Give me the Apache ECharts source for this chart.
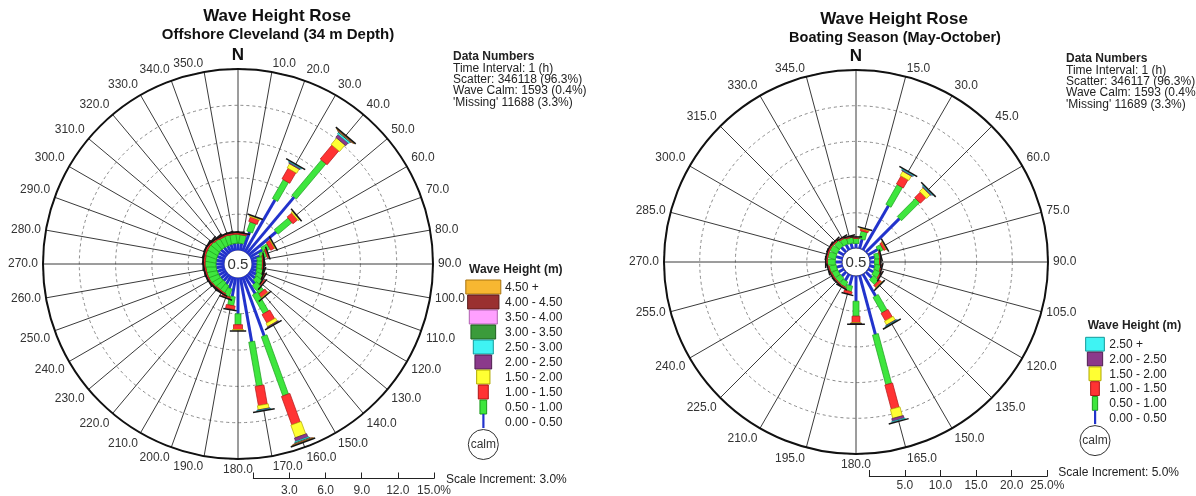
<!DOCTYPE html>
<html>
<head>
<meta charset="utf-8">
<script src="https://cdn.jsdelivr.net/npm/echarts/dist/echarts.min.js"></script>
<style>html,body{margin:0;padding:0;background:#fff}#main{width:1196px;height:496px}</style>
</head>
<body>
<div id="main"></div>
<script>
var FONT = '"Liberation Sans", Arial, sans-serif';

// ---- left rose: Offshore Cleveland, 10 degree sectors, % of records ----
var leftDirs = [0,10,20,30,40,50,60,70,80,90,100,110,120,130,140,150,160,170,
                180,190,200,210,220,230,240,250,260,270,280,290,300,310,320,330,340,350];
var left000 = [0.6,0.6,1.7,5.0,6.1,3.0,1.2,0.8,0.5,0.45,0.45,0.5,0.6,0.7,1.0,1.7,5.2,5.4,
               3.0,1.6,1.0,0.8,0.7,0.7,0.7,0.7,0.7,0.7,0.7,0.7,0.7,0.7,0.65,0.6,0.6,0.6];
var left050 = [0.75,0.7,0.8,1.8,3.8,1.5,0.6,0.55,0.45,0.45,0.45,0.5,0.55,0.65,0.9,1.8,5.2,3.7,
               0.9,0.75,0.7,0.7,0.75,0.8,0.85,0.85,0.85,0.9,0.9,0.95,0.95,0.9,0.85,0.8,0.8,0.75];
var left100 = [0.1,0.1,0.4,1.0,1.5,0.5,0.35,0.1,0.06,0.06,0.06,0.07,0.08,0.12,0.35,0.8,2.5,1.6,
               0.4,0.3,0.1,0.08,0.08,0.08,0.08,0.09,0.1,0.1,0.12,0.12,0.13,0.12,0.1,0.1,0.1,0.1];
var left150 = [0,0,0.08,0.4,0.7,0.12,0.05,0,0,0,0,0,0,0,0.05,0.3,1.1,0.35,
               0.06,0,0,0,0,0,0,0,0,0,0,0,0,0,0,0,0,0];
var left200 = [0,0,0,0.1,0.3,0,0,0,0,0,0,0,0,0,0,0.06,0.3,0.06,0,0,0,0,0,0,0,0,0,0,0,0,0,0,0,0,0,0];
var left250 = [0,0,0,0.05,0.15,0,0,0,0,0,0,0,0,0,0,0,0.1,0.02,0,0,0,0,0,0,0,0,0,0,0,0,0,0,0,0,0,0];
var left300 = [0,0,0,0,0.06,0,0,0,0,0,0,0,0,0,0,0,0.05,0,0,0,0,0,0,0,0,0,0,0,0,0,0,0,0,0,0,0];
var left350 = [0,0,0,0,0.03,0,0,0,0,0,0,0,0,0,0,0,0.03,0,0,0,0,0,0,0,0,0,0,0,0,0,0,0,0,0,0,0];
var left400 = [0,0,0,0,0.02,0,0,0,0,0,0,0,0,0,0,0,0.02,0,0,0,0,0,0,0,0,0,0,0,0,0,0,0,0,0,0,0];
var left450 = [0,0,0,0,0.02,0,0,0,0,0,0,0,0,0,0,0,0.02,0,0,0,0,0,0,0,0,0,0,0,0,0,0,0,0,0,0,0];
var leftClasses = ['0.00 - 0.50','0.50 - 1.00','1.00 - 1.50','1.50 - 2.00','2.00 - 2.50',
                   '2.50 - 3.00','3.00 - 3.50','3.50 - 4.00','4.00 - 4.50','4.50 +'];
var leftScaleTicks = [0,3,6,9,12,15];
var leftStats = ['Time Interval: 1 (h)','Scatter: 346118 (96.3%)','Wave Calm: 1593 (0.4%)',"'Missing' 11688 (3.3%)"];

// ---- right rose: Boating Season, 15 degree sectors ----
var rightDirs = [0,15,30,45,60,75,90,105,120,135,150,165,180,195,210,225,240,255,270,285,300,315,330,345];
var right000 = [0.7,1.4,7.2,6.7,1.6,0.8,0.7,0.8,0.9,1.2,3.6,8.6,3.6,1.5,1.1,0.9,0.9,0.9,1.0,1.0,1.0,1.0,0.9,0.8];
var right050 = [0.7,1.1,3.2,3.6,0.7,0.7,0.7,0.8,0.9,1.0,2.5,7.2,2.1,0.8,0.8,0.9,0.9,1.0,1.1,1.1,1.1,1.0,0.9,0.8];
var right100 = [0.12,0.3,1.3,1.1,0.35,0.1,0.08,0.1,0.14,0.4,1.2,3.5,0.9,0.35,0.14,0.12,0.12,0.13,0.15,0.15,0.16,0.15,0.13,0.12];
var right150 = [0,0.05,0.7,0.7,0.05,0,0,0,0,0.05,0.6,1.3,0.1,0,0,0,0,0,0,0,0,0,0,0];
var right200 = [0,0,0.15,0.15,0,0,0,0,0,0,0.1,0.4,0.02,0,0,0,0,0,0,0,0,0,0,0];
var right250 = [0,0,0.1,0.1,0,0,0,0,0,0,0.05,0.1,0,0,0,0,0,0,0,0,0,0,0,0];
var rightClasses = ['0.00 - 0.50','0.50 - 1.00','1.00 - 1.50','1.50 - 2.00','2.00 - 2.50','2.50 +'];
var rightScaleTicks = [0,5,10,15,20,25];
var rightStats = ['Time Interval: 1 (h)','Scatter: 346117 (96.3%)','Wave Calm: 1593 (0.4%)',"'Missing' 11689 (3.3%)"];

// styles
var fills   = ['#2233cc','#3ee63e','#ff3333','#ffff33','#8b3a8b','#3ff3f3','#3b9b3b','#ffa0ff','#9a3030','#f7b731'];
var strokes = ['#2233cc','#1c9a1c','#b01515','#b0a800','#4e1e4e','#139a9a','#1f5f1f','#b060b0','#5a1a1a','#a87410'];
var leftWidths  = [3,6,9,11,13,15,17,19,21,23];
var rightWidths = [3,6,8,10,12,14];

function buildSegs(dirs, classes) {
  var segs = [], caps = [];
  dirs.forEach(function (d, i) {
    var acc = 0, last = -1;
    classes.forEach(function (arr, k) {
      var v = arr[i];
      if (v > 0) { segs.push([acc + v, d, acc, k]); acc += v; last = k; }
    });
    if (last >= 0) caps.push([acc, d, last]);
  });
  return {segs: segs, caps: caps};
}

function frame(api, ang, rmax) {
  var o = api.coord([0, ang]), f = api.coord([rmax, ang]);
  var ux = f[0] - o[0], uy = f[1] - o[1], L = Math.sqrt(ux * ux + uy * uy);
  return [ux / L, uy / L];
}

function segRenderer(widths, rmax) {
  return function (params, api) {
    var ang = api.value(1), k = api.value(3);
    var a = api.coord([api.value(2), ang]), b = api.coord([api.value(0), ang]);
    var u = frame(api, ang, rmax), h = widths[k] / 2;
    var nx = -u[1] * h, ny = u[0] * h;
    return {
      type: 'polygon',
      shape: {points: [[a[0] + nx, a[1] + ny], [b[0] + nx, b[1] + ny], [b[0] - nx, b[1] - ny], [a[0] - nx, a[1] - ny]]},
      style: {fill: fills[k], stroke: k === 0 ? null : strokes[k], lineWidth: 0.7}
    };
  };
}

function capRenderer(widths, rmax) {
  return function (params, api) {
    var ang = api.value(1), k = api.value(2);
    var b = api.coord([api.value(0), ang]);
    var u = frame(api, ang, rmax), h = Math.min(widths[k] * 1.4 + 1, 26) / 2, t = 1.5;
    var nx = -u[1] * h, ny = u[0] * h;
    var c = [b[0] + u[0] * t, b[1] + u[1] * t];
    return {
      type: 'polygon',
      shape: {points: [[b[0] + nx, b[1] + ny], [c[0] + nx, c[1] + ny], [c[0] - nx, c[1] - ny], [b[0] - nx, b[1] - ny]]},
      style: {fill: '#151515'}
    };
  };
}

function angleFormatter(step) {
  return function (v) {
    if (v === 0) return '{n|N}';
    if (v >= 360) return '';
    var s = v.toFixed(1);
    if (v === step) return '{a|' + s + '}';
    if (v === 360 - step) return '{b|' + s + '}';
    if (v === 180 - step) return '{c|' + s + '}';
    if (v === 180 + step) return '{d|' + s + '}';
    return s;
  };
}

var labelRich = {
  n: {fontSize: 17, fontWeight: 'bold', color: '#111', fontFamily: FONT},
  a: {fontSize: 12, color: '#333', fontFamily: FONT, padding: [0, 0, 0, 23], lineHeight: 6},
  b: {fontSize: 12, color: '#333', fontFamily: FONT, padding: [0, 30, 0, 0], lineHeight: 6},
  c: {fontSize: 12, color: '#333', fontFamily: FONT, padding: [0, 0, 0, 30]},
  d: {fontSize: 12, color: '#333', fontFamily: FONT, padding: [0, 30, 0, 0]}
};

function angleAxis(idx, step) {
  return {
    polarIndex: idx, type: 'value', min: 0, max: 360, interval: step,
    startAngle: 90, clockwise: true,
    axisLine: {lineStyle: {color: '#111', width: 2}},
    axisTick: {show: false},
    splitLine: {show: true, lineStyle: {color: '#3a3a3a', width: 1}},
    axisLabel: {margin: 5, fontSize: 12, color: '#333', fontFamily: FONT,
                formatter: angleFormatter(step), rich: labelRich}
  };
}

function radiusAxis(idx, max, step) {
  return {
    polarIndex: idx, type: 'value', min: 0, max: max, interval: step,
    axisLine: {show: false}, axisTick: {show: false}, axisLabel: {show: false},
    splitLine: {show: true, lineStyle: {color: '#8a8a8a', width: 1, type: [3, 3]}}
  };
}

function scaleAxis(idx, ticks, margin) {
  var max = ticks[ticks.length - 1];
  return {
    gridIndex: idx, type: 'value', min: 0, max: max, interval: ticks[1] - ticks[0],
    axisLine: {lineStyle: {color: '#222', width: 1}},
    axisTick: {inside: true, length: 6, lineStyle: {color: '#222'}},
    splitLine: {show: false},
    axisLabel: {margin: margin, fontSize: 12, color: '#333', fontFamily: FONT,
      formatter: function (v) { return v === 0 ? '' : v.toFixed(1) + (v === max ? '%' : ''); }}
  };
}

var L = buildSegs(leftDirs, [left000, left050, left100, left150, left200, left250, left300, left350, left400, left450]);
var R = buildSegs(rightDirs, [right000, right050, right100, right150, right200, right250]);

var g = [];
function text(x, y, s, font, align, color) {
  g.push({type: 'text', x: x, y: y, z: 100,
          style: {text: s, font: font, fill: color || '#222', align: align || 'left', verticalAlign: 'middle'}});
}
function calm(cx, cy, r, label, fsize) {
  g.push({type: 'circle', z: 100, shape: {cx: cx, cy: cy, r: r},
          style: {fill: '#fff', stroke: label ? '#333' : null, lineWidth: 1}});
  text(cx, cy + 0.5, label || '0.5', fsize + 'px ' + FONT, 'center', '#333');
}

// titles
text(277, 16, 'Wave Height Rose', 'bold 17px ' + FONT, 'center', '#111');
text(278, 34.5, 'Offshore Cleveland (34 m Depth)', 'bold 15px ' + FONT, 'center', '#111');
text(894, 19.5, 'Wave Height Rose', 'bold 17px ' + FONT, 'center', '#111');
text(895, 38, 'Boating Season (May-October)', 'bold 14.5px ' + FONT, 'center', '#111');

// data numbers
text(453, 57, 'Data Numbers', 'bold 12px ' + FONT);
leftStats.forEach(function (s, i) { text(453, 68.5 + 11.3 * i, s, '12px ' + FONT); });
text(1066, 59, 'Data Numbers', 'bold 12px ' + FONT);
rightStats.forEach(function (s, i) { text(1066, 70.5 + 11.3 * i, s, '12px ' + FONT); });

// calm centres
calm(238, 264, 13.5, null, 15);
calm(856, 262, 13.5, null, 15);

// legends
function legend(cx, top, step, boxW, classes, titleX, titleY, labelX) {
  text(titleX, titleY, 'Wave Height (m)', 'bold 12px ' + FONT);
  var n = classes.length;
  for (var i = 0; i < n - 1; i++) {
    var k = n - 1 - i, w = boxW[i];
    g.push({type: 'rect', z: 100, shape: {x: cx - w / 2, y: top + step * i, width: w, height: step - 1},
            style: {fill: fills[k], stroke: strokes[k], lineWidth: 1}});
  }
  var ly = top + step * (n - 1);
  g.push({type: 'rect', z: 100, shape: {x: cx - 1, y: ly - 1, width: 2.2, height: step - 1},
          style: {fill: fills[0]}});
  for (var j = 0; j < n; j++) text(labelX, top + step * j + 7.3, classes[n - 1 - j], '12px ' + FONT, 'left', '#222');
  calm(cx, ly + step + 14.5, 15, 'calm', 12);
}
legend(483.3, 280, 15, [35, 31.3, 28, 24.7, 20, 16.7, 13.3, 10, 6.7], leftClasses, 469, 270, 505);
legend(1095, 337.3, 14.8, [18.7, 15.3, 12, 8.7, 5.3], rightClasses, 1087.7, 326, 1109.3);

text(446, 479.3, 'Scale Increment: 3.0%', '12px ' + FONT);
text(1058.3, 472.3, 'Scale Increment: 5.0%', '12px ' + FONT);

var chart = echarts.init(document.getElementById('main'), null, {renderer: 'canvas'});
chart.setOption({
  animation: false,
  backgroundColor: '#fff',
  polar: [
    {center: [238, 264], radius: [13.5, 195]},
    {center: [856, 262], radius: [13.5, 192]}
  ],
  angleAxis: [angleAxis(0, 10), angleAxis(1, 15)],
  radiusAxis: [radiusAxis(0, 15, 3), radiusAxis(1, 25, 5)],
  grid: [
    {left: 253.3, top: 477, width: 180.7, height: 6},
    {left: 869.3, top: 470, width: 178, height: 6}
  ],
  xAxis: [scaleAxis(0, leftScaleTicks, 6), scaleAxis(1, rightScaleTicks, 4)],
  yAxis: [{gridIndex: 0, show: false}, {gridIndex: 1, show: false}],
  series: [
    {type: 'custom', coordinateSystem: 'polar', polarIndex: 0, silent: true,
     renderItem: segRenderer(leftWidths, 15), data: L.segs},
    {type: 'custom', coordinateSystem: 'polar', polarIndex: 0, silent: true,
     renderItem: capRenderer(leftWidths, 15), data: L.caps},
    {type: 'custom', coordinateSystem: 'polar', polarIndex: 1, silent: true,
     renderItem: segRenderer(rightWidths, 25), data: R.segs},
    {type: 'custom', coordinateSystem: 'polar', polarIndex: 1, silent: true,
     renderItem: capRenderer(rightWidths, 25), data: R.caps}
  ],
  graphic: g
});
</script>
</body>
</html>
